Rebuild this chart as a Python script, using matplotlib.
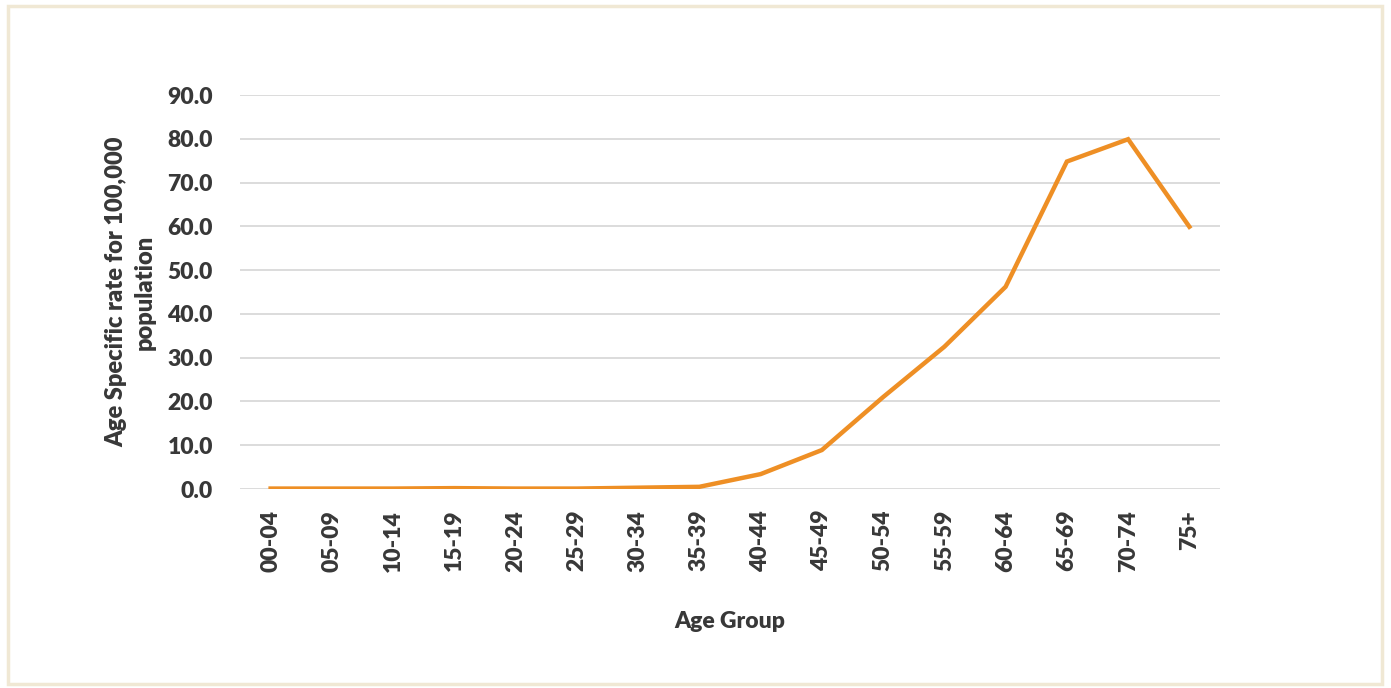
import matplotlib
matplotlib.use("Agg")
import matplotlib.pyplot as plt
from matplotlib.patches import Rectangle

age_groups = ["00-04", "05-09", "10-14", "15-19", "20-24", "25-29", "30-34", "35-39",
              "40-44", "45-49", "50-54", "55-59", "60-64", "65-69", "70-74", "75+"]
rates = [0.1, 0.1, 0.1, 0.2, 0.1, 0.1, 0.3, 0.5, 3.4, 8.9, 21.0, 32.5, 46.2, 74.8, 79.9, 59.9]
y_ticks = [0, 10, 20, 30, 40, 50, 60, 70, 80, 90]

plt.rcParams['font.family'] = ['Lato', 'DejaVu Sans']
W, H = 1391, 688
fig = plt.figure(figsize=(W / 100, H / 100), dpi=100)
fig.patch.set_facecolor('white')
fig.patches.append(Rectangle((8 / W, 4 / H), 1374 / W, 678 / H, transform=fig.transFigure,
                             fill=False, edgecolor='#F0E8D4', linewidth=2.5))

ax = fig.add_axes([240 / W, 1 - 489 / H, 980 / W, (489 - 95) / H])
x = list(range(len(age_groups)))
ax.plot(x, rates, color='#EE8F25', linewidth=3.2, solid_joinstyle='miter', zorder=3)
ax.set_xlim(-0.5, len(age_groups) - 0.5)
ax.set_ylim(0, 90)
ax.set_yticks(y_ticks)
ax.set_yticklabels([f"{v:.1f}" for v in y_ticks])
ax.set_xticks(x)
ax.set_xticklabels(age_groups, rotation=90)
ax.grid(axis='y', color='#D9D9D9', linewidth=1.3)
ax.set_axisbelow(True)
for s in ax.spines.values():
    s.set_visible(False)
ax.tick_params(axis='both', length=0, labelsize=16.5, labelcolor='#383838')
ax.tick_params(axis='y', pad=19.5)
ax.tick_params(axis='x', pad=15)
for lab in ax.get_xticklabels() + ax.get_yticklabels():
    lab.set_fontweight('heavy')

ax.set_xlabel("Age Group", fontsize=16.5, fontweight='heavy', color='#383838', labelpad=28)
ax.set_ylabel("Age Specific rate for 100,000\npopulation", fontsize=17, fontweight='heavy',
              color='#383838', labelpad=8, linespacing=1.4)

fig.savefig("out.png", dpi=100, facecolor='white')
